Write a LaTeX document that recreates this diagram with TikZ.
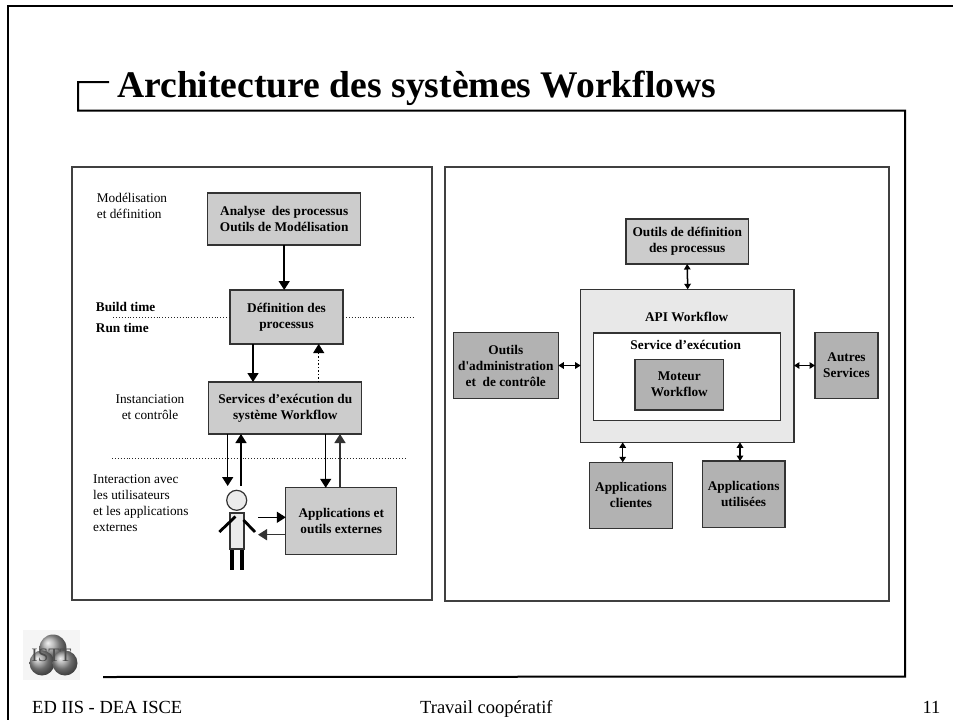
\documentclass[tikz,border=0pt]{standalone}
\usepackage{fontspec}
\setmainfont{Liberation Serif}
\newfontfamily\plainserif{Liberation Serif}
\usetikzlibrary{arrows.meta}
\tikzset{
	frameline/.style={line width=2pt, black},
	panel/.style={draw=black!75, line width=1.2pt},
	bodytext/.style={font=\fontsize{13.3}{16}\selectfont, align=left, inner sep=0pt},
	boldtext/.style={bodytext, font=\fontsize{13.3}{16}\selectfont\bfseries},
	lightbox/.style={draw=black!80, line width=1.2pt, fill=black!20, outer sep=0pt, inner sep=0pt, align=center, font=\fontsize{13.3}{16}\selectfont\bfseries},
	darkbox/.style={lightbox, fill=black!30},
	footertext/.style={font=\fontsize{18.5}{22}\selectfont, inner sep=0pt},
	bigarrow/.style={-{Triangle[length=9pt,width=11pt]}, line width=1.5pt},
	smallarrow/.style={{Triangle[length=5.5pt,width=6.5pt]}-{Triangle[length=5.5pt,width=6.5pt]}, line width=1.5pt},
	sepline/.style={dotted, line width=0.9pt, black!85}
}
\begin{document}
\begin{tikzpicture}[x=1pt,y=-1pt]
	\useasboundingbox (0,0) rectangle (953,720);
	
	% Outer frame and title frame
	\draw[line width=2.6pt] (953,6) -- (8,6) -- (8,720);
	\draw[frameline] (109,82) -- (78,82) -- (78,110.5) -- (905,110.5) -- (905,676.5) -- (103,677);
	\node[anchor=base west, inner sep=0pt, font=\fontsize{37.6}{42}\selectfont\bfseries] (Title) at (117,97) {Architecture des systèmes Workflows};
	
	% Panels
	\draw[panel] (72,167) rectangle (432,600);
	\draw[panel] (445,167) rectangle (889,601);
	
	% Left panel
	\node[lightbox, minimum width=153pt, minimum height=52pt] (Analyse) at (284.2,219) {Analyse\ \ des processus\\Outils de Modélisation};
	\node[lightbox, minimum width=113pt, minimum height=54pt] (Definition) at (286.5,317) {Définition des\\processus};
	\node[lightbox, minimum width=153pt, minimum height=52pt] (Services) at (285.3,408) {Services d’exécution du\\système Workflow};
	\node[lightbox, minimum width=111pt, minimum height=67pt] (Applications) at (341.3,521.3) {Applications et\\outils externes};
	\draw[bigarrow] (Analyse.south) -- ([xshift=-2.3pt]Definition.north);
	\draw[bigarrow] ([xshift=-33.5pt]Definition.south) -- ([xshift=-32.3pt]Services.north);
	\draw[bigarrow, dotted, line width=0.9pt] ([xshift=33.4pt]Services.north) -- ([xshift=32.2pt]Definition.south);
	\draw[bigarrow] ([xshift=40.4pt]Services.south) -- ([xshift=-15.6pt]Applications.north);
	\draw[bigarrow, black!80] ([xshift=-1.3pt]Applications.north) -- ([xshift=54.7pt]Services.south);
	
	% Side labels
	\node[bodytext, anchor=west] (LabelModel) at (96.7,205.5) {Modélisation\\et définition};
	\node[bodytext, align=center] (LabelInstance) at (150,407) {Instanciation\\et contrôle};
	\node[bodytext, anchor=west] (LabelUsers) at (93,503) {Interaction avec\\les utilisateurs\\et les applications\\externes};
	\node[boldtext, anchor=west] (LabelBuild) at (95.7,306.7) {Build time};
	\node[boldtext, anchor=west] (LabelRun) at (95.7,327.7) {Run time};
	
	% Dotted separators
	\coordinate (SepLeft) at (113,317.7);
	\coordinate (SepRight) at (414,317.7);
	\coordinate (SepLowLeft) at (112,458);
	\coordinate (SepLowRight) at (407,458);
	\draw[sepline] (SepLeft) -- (Definition.west |- SepLeft);
	\draw[sepline] (Definition.east |- SepRight) -- (SepRight);
	\draw[sepline] (SepLowLeft) -- (SepLowRight);
	
	% User figure
	\draw[line width=4pt] (232,549) -- (232,570);
	\draw[line width=4pt] (241.7,549) -- (241.7,570);
	\draw[draw=black!80, line width=1.2pt, fill=black!8] (230,513) rectangle (244,549);
	\node[draw=black!80, line width=1.2pt, fill=black!8, circle, minimum size=20pt, inner sep=0pt] (UserHead) at (236.7,500.3) {};
	\draw[line width=2.8pt] (235.5,516.5) -- (219.3,532);
	\draw[line width=2.8pt] (243.5,520) -- (255,532);
	\coordinate (UserIn) at (227.7,486);
	\coordinate (UserOut) at (241,486);
	\coordinate (UserRight) at (258,517.3);
	\coordinate (UserLeft) at (258,534.7);
	\draw[bigarrow] ([xshift=-57.6pt]Services.south) -- (UserIn);
	\draw[bigarrow] (UserOut) -- ([xshift=-44.3pt]Services.south);
	\draw[bigarrow] (UserRight) -- (Applications.west |- UserRight);
	\draw[bigarrow, black!80] (Applications.west |- UserLeft) -- (UserLeft);
	
	% Right panel
	\node[draw=black!80, line width=1.2pt, fill=black!9, minimum width=213.3pt, minimum height=153pt, outer sep=0pt] (API) at (687.3,365.8) {};
	\node[draw=black!80, line width=1.2pt, fill=white, minimum width=187.4pt, minimum height=87.3pt, outer sep=0pt] (Service) at (687,376.7) {};
	\node[boldtext, align=center] (APILabel) at (686.7,317.3) {API Workflow};
	\node[boldtext, align=center] (ServiceLabel) at (685.7,344.7) {Service d’exécution};
	\node[darkbox, minimum width=88.7pt, minimum height=50.7pt] (Moteur) at (679.3,384.7) {Moteur\\Workflow};
	\node[lightbox, minimum width=122.3pt, minimum height=45pt] (OutilsDef) at (687.2,241.5) {Outils de définition\\des processus};
	\node[darkbox, minimum width=105pt, minimum height=66.4pt] (OutilsAdmin) at (505.8,365.5) {Outils\\d{\plainserif\bfseries '}administration\\et\ \ de contrôle};
	\node[darkbox, minimum width=63pt, minimum height=66.4pt] (Autres) at (846.5,365.5) {Autres\\Services};
	\node[darkbox, minimum width=82.6pt, minimum height=66pt] (Clientes) at (631,495.3) {Applications\\clientes};
	\node[darkbox, minimum width=82.7pt, minimum height=66.3pt] (Utilisees) at (743.6,494.2) {Applications\\utilisées};
	\draw[smallarrow] (OutilsDef.south) -- ([xshift=.4pt]API.north);
	\draw[smallarrow] (OutilsAdmin.east) -- (API.west |- OutilsAdmin.east);
	\draw[smallarrow] (API.east |- Autres.west) -- (Autres.west);
	\draw[smallarrow] ([xshift=-64.6pt]API.south) -- ([xshift=-8.3pt]Clientes.north);
	\draw[smallarrow] ([xshift=52.7pt]API.south) -- ([xshift=-3.6pt]Utilisees.north);
	
	% Logo
	\node[fill=black!4, minimum width=57pt, minimum height=50pt, inner sep=0pt] (LogoBack) at (51.5,654.5) {};
	\shade[ball color=black!35] (53,648) circle (13.5);
	\shade[ball color=black!40] (42,663) circle (12.5);
	\shade[ball color=black!40] (65,663) circle (12.5);
	\node[font=\fontsize{19}{19}\selectfont, text=black!70, inner sep=0pt] (LogoText) at (51.5,655) {ISTT};
	
	% Footer
	\node[footertext, anchor=base west] (FooterLeft) at (32,713) {ED IIS - DEA ISCE};
	\node[footertext, anchor=base west] (FooterMiddle) at (420,713) {Travail coopératif};
	\node[footertext, anchor=base] (FooterNumber) at (931.5,713) {11};
\end{tikzpicture}
\end{document}
